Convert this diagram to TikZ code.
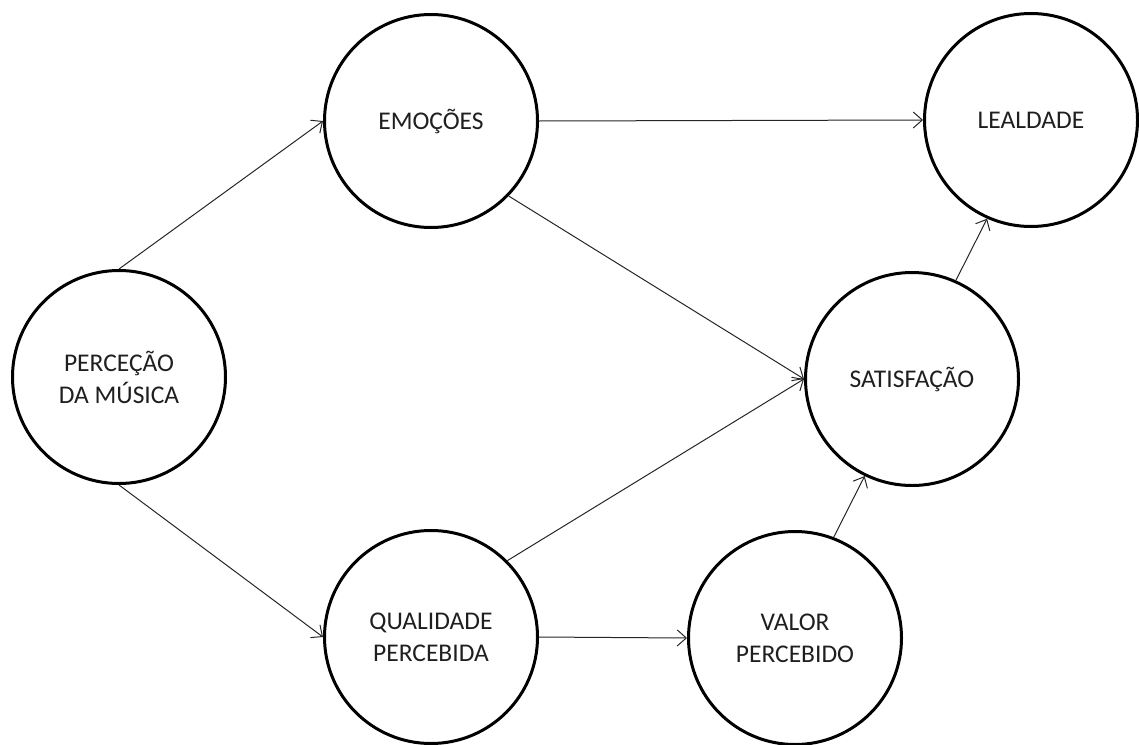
\documentclass[tikz,border=0pt]{standalone}
\usepackage{fontspec}
\setmainfont{Carlito}
\usetikzlibrary{arrows.meta}
\begin{document}
\begin{tikzpicture}[x=1pt,y=-1pt,
  construct/.style={circle,draw=black,line width=3pt,minimum size=213pt,inner sep=0pt,
    align=center,text=black!88,font=\fontsize{25.5}{32}\selectfont},
  link/.style={draw=black!85,line width=1pt,-{Straight Barb[length=9pt,width=16pt,line width=1pt]}}]
\useasboundingbox (0,0) rectangle (1139,744);
\node[construct] (P) at (119,377) {PERCEÇÃO\\DA MÚSICA};
\node[construct] (E) at (431,121) {EMOÇÕES};
\node[construct] (L) at (1031,120) {LEALDADE};
\node[construct] (S) at (912,379) {SATISFAÇÃO};
\node[construct] (Q) at (431,637) {QUALIDADE\\PERCEBIDA};
\node[construct] (V) at (795,638) {VALOR\\PERCEBIDO};
\draw[link] (P.north) -- (E.west);
\draw[link] (P.south) -- (Q.west);
\draw[link] (E.east) -- (L.west);
\draw[link] (E.-44) -- (S.west);
\draw[link] (Q.45) -- (S.west);
\draw[link] (Q.east) -- (V.west);
\draw[link] (V.69) -- (S.244);
\draw[link] (S.66) -- (L.246);
\end{tikzpicture}
\end{document}
